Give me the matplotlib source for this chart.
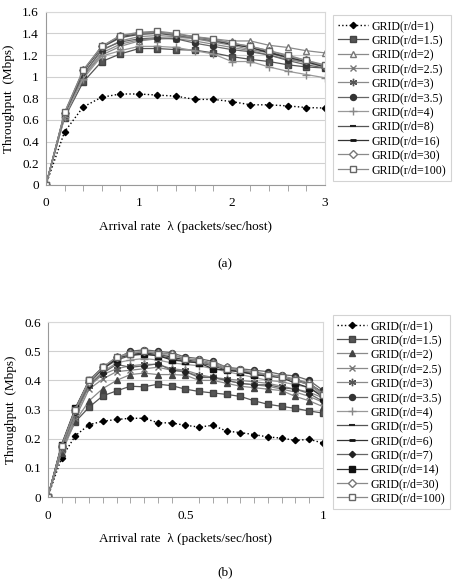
import matplotlib
matplotlib.use("Agg")
import matplotlib.pyplot as plt
import numpy as np

plt.rcParams['font.family'] = ['Liberation Serif', 'DejaVu Serif']

# ---------------- data (a) ----------------
x_a = [0, 0.2, 0.4, 0.6, 0.8, 1.0, 1.2, 1.4, 1.6, 1.8, 2.0, 2.2, 2.4, 2.6, 2.8, 3.0]
labels_a = ["1", "1.5", "2", "2.5", "3", "3.5", "4", "8", "16", "30", "100"]
a_1 = [0, .49, .72, .81, .84, .84, .83, .82, .79, .79, .77, .74, .74, .73, .715, .71]
a_1_5 = [0, .62, .95, 1.14, 1.21, 1.26, 1.26, 1.25, 1.245, 1.22, 1.185, 1.16, 1.14, 1.11, 1.09, 1.08]
a_2 = [0, .64, 1.00, 1.20, 1.28, 1.33, 1.35, 1.36, 1.36, 1.35, 1.33, 1.33, 1.29, 1.27, 1.24, 1.22]
a_2_5 = [0, .64, 1.00, 1.22, 1.30, 1.34, 1.35, 1.35, 1.33, 1.30, 1.27, 1.24, 1.20, 1.16, 1.13, 1.10]
a_3 = [0, .65, 1.02, 1.24, 1.33, 1.37, 1.38, 1.37, 1.35, 1.32, 1.29, 1.25, 1.22, 1.17, 1.13, 1.09]
a_3_5 = [0, .65, 1.02, 1.25, 1.32, 1.35, 1.36, 1.35, 1.31, 1.28, 1.25, 1.23, 1.20, 1.15, 1.11, 1.08]
a_4 = [0, .63, .98, 1.19, 1.24, 1.28, 1.28, 1.27, 1.24, 1.21, 1.14, 1.14, 1.09, 1.05, 1.02, .99]
a_8 = [0, .66, 1.05, 1.27, 1.36, 1.39, 1.40, 1.38, 1.36, 1.33, 1.30, 1.27, 1.23, 1.18, 1.14, 1.10]
a_16 = [0, .66, 1.05, 1.28, 1.37, 1.40, 1.41, 1.39, 1.37, 1.34, 1.30, 1.27, 1.22, 1.18, 1.14, 1.09]
a_30 = [0, .66, 1.06, 1.28, 1.38, 1.40, 1.41, 1.39, 1.36, 1.34, 1.31, 1.28, 1.24, 1.19, 1.15, 1.10]
a_100 = [0, .67, 1.06, 1.28, 1.38, 1.41, 1.42, 1.40, 1.37, 1.35, 1.31, 1.28, 1.24, 1.20, 1.15, 1.11]
series_a = [a_1, a_1_5, a_2, a_2_5, a_3, a_3_5, a_4, a_8, a_16, a_30, a_100]

# ---------------- data (b) ----------------
x_b = [0, .05, .1, .15, .2, .25, .3, .35, .4, .45, .5, .55, .6, .65, .7, .75, .8, .85, .9, .95, 1.0]
labels_b = ["1", "1.5", "2", "2.5", "3", "3.5", "4", "5", "6", "7", "14", "30", "100"]
b_1 = [0, .134, .21, .248, .26, .266, .27, .27, .255, .254, .246, .24, .246, .226, .221, .214, .206, .202, .194, .198, .185]
b_1_5 = [0, .165, .258, .308, .347, .364, .38, .378, .387, .382, .37, .362, .357, .352, .345, .33, .318, .311, .304, .295, .288]
b_2 = [0, .15, .26, .33, .372, .40, .42, .425, .42, .42, .418, .40, .40, .39, .38, .375, .37, .365, .345, .33, .31]
b_2_5 = [0, .16, .27, .37, .405, .43, .435, .44, .445, .435, .43, .415, .41, .40, .39, .385, .38, .37, .36, .345, .325]
b_3 = [0, .165, .28, .38, .42, .44, .45, .455, .455, .44, .435, .42, .41, .405, .40, .395, .39, .38, .37, .36, .34]
b_3_5 = [0, .175, .30, .40, .445, .475, .50, .505, .50, .495, .48, .475, .465, .445, .44, .435, .43, .42, .415, .40, .366]
b_4 = [0, .17, .29, .39, .43, .46, .47, .475, .47, .46, .455, .45, .44, .43, .42, .41, .40, .395, .385, .375, .35]
b_5 = [0, .175, .30, .395, .44, .47, .485, .49, .485, .475, .465, .46, .45, .435, .43, .42, .415, .41, .40, .385, .36]
b_6 = [0, .175, .30, .395, .44, .475, .49, .495, .49, .48, .47, .465, .455, .44, .43, .425, .42, .41, .40, .39, .357]
b_7 = [0, .17, .29, .385, .425, .455, .445, .45, .457, .435, .43, .41, .41, .40, .39, .385, .385, .375, .37, .355, .328]
b_14 = [0, .18, .305, .40, .445, .475, .49, .49, .485, .47, .465, .46, .44, .435, .43, .42, .415, .41, .39, .375, .343]
b_30 = [0, .175, .30, .395, .445, .48, .495, .50, .495, .49, .475, .47, .46, .445, .435, .43, .42, .415, .405, .39, .355]
b_100 = [0, .175, .30, .40, .445, .48, .49, .50, .49, .485, .475, .465, .455, .44, .435, .425, .42, .41, .40, .385, .35]
series_b = [b_1, b_1_5, b_2, b_2_5, b_3, b_3_5, b_4, b_5, b_6, b_7, b_14, b_30, b_100]

GRAY = '#8a8a8a'

def style(lbl, panel):
    base = dict(color=GRAY, lw=0.9, ms=3.8, mec=GRAY, mfc=GRAY, ls='-')
    if lbl == "1":
        base.update(color='black', ls=':', lw=1.0, marker='D', ms=3.2, mec='black', mfc='black')
    elif lbl == "1.5":
        base.update(color='#555555', marker='s', ms=4.3, mec='#444444', mfc='#555555')
    elif lbl == "2":
        if panel == 'a':
            base.update(marker='^', mfc='white', mec='#777777', ms=4.8)
        else:
            base.update(marker='^', mfc='#444444', mec='#444444', ms=4.3)
    elif lbl == "2.5":
        base.update(marker='x', mec='#777777', ms=4.3)
    elif lbl == "3":
        base.update(marker=(6, 2, 0), mec='#555555', ms=5.3)
    elif lbl == "3.5":
        base.update(color='#666666', marker='o', mfc='#333333', mec='#333333', ms=4.3)
    elif lbl == "4":
        base.update(color='#999999', marker='+', mec='#888888', ms=5.3)
    elif lbl in ("5", "8"):
        base.update(color='#555555', marker='_', mec='#222222', ms=4, mew=1.5)
    elif lbl in ("6", "16"):
        base.update(color='#333333', marker='_', mec='#111111', ms=5, mew=2)
    elif lbl == "7":
        base.update(color='#666666', marker='D', mfc='#222222', mec='#222222', ms=3.2)
    elif lbl == "14":
        base.update(color='#333333', marker='s', mfc='#111111', mec='#111111', ms=4.3)
    elif lbl == "30":
        base.update(marker='D', mfc='white', mec='#777777', ms=3.7)
    elif lbl == "100":
        base.update(marker='s', mfc='white', mec='#666666', ms=4.3)
    return base

fig = plt.figure(figsize=(4.64, 5.87), dpi=100)

def setup(ax, xmax, ymax, ystep, xmaj, xminor):
    ax.set_xlim(0, xmax)
    ax.set_ylim(0, ymax)
    ax.set_yticks(np.arange(0, ymax + 1e-9, ystep))
    ax.set_xticks(xmaj)
    ax.set_xticks(xminor, minor=True)
    ax.yaxis.grid(True, color='#d0d0d0', lw=0.8)
    ax.set_axisbelow(True)
    for s in ['top', 'right']:
        ax.spines[s].set_color('#d8d8d8')
        ax.spines[s].set_linewidth(0.8)
    for s in ['left', 'bottom']:
        ax.spines[s].set_color('#999999')
        ax.spines[s].set_linewidth(0.8)
    ax.tick_params(axis='y', length=0, labelsize=9.5, pad=5)
    ax.tick_params(axis='x', which='both', length=4, color='#999999', labelsize=9.5, pad=9)
    ax.tick_params(axis='x', which='major', length=0)
    ax.set_ylabel('Throughput  (Mbps)', fontsize=9.5, labelpad=5)
    ax.set_xlabel('Arrival rate  λ (packets/sec/host)', fontsize=9.5, labelpad=8)

# ---- panel (a)
ax1 = fig.add_axes([0.099, 0.685, 0.601, 0.295])
for lbl, ys in zip(labels_a, series_a):
    ax1.plot(x_a, ys, label=f"GRID(r/d={lbl})", **style(lbl, 'a'))
setup(ax1, 3, 1.6, 0.2, [0, 1, 2, 3], x_a)
ax1.set_yticklabels(['0', '0.2', '0.4', '0.6', '0.8', '1', '1.2', '1.4', '1.6'])
ax1.set_xticklabels(['0', '1', '2', '3'])
leg1 = ax1.legend(loc='upper left', bbox_to_anchor=(1.03, 0.98), fontsize=8.6,
                  frameon=True, fancybox=False, edgecolor='#c8c8c8', handlelength=2.5,
                  labelspacing=0.2, borderpad=0.4, handletextpad=0.3, borderaxespad=0)
leg1.get_frame().set_linewidth(0.8)
fig.text(0.485, 0.55, '(a)', ha='center', va='center', fontsize=9.5)

# ---- panel (b)
ax2 = fig.add_axes([0.103, 0.1533, 0.593, 0.298])
for lbl, ys in zip(labels_b, series_b):
    ax2.plot(x_b, ys, label=f"GRID(r/d={lbl})", **style(lbl, 'b'))
setup(ax2, 1, 0.6, 0.1, [0, 0.5, 1], x_b)
ax2.set_yticklabels(['0', '0.1', '0.2', '0.3', '0.4', '0.5', '0.6'])
ax2.set_xticklabels(['0', '0.5', '1'])
leg2 = ax2.legend(loc='upper left', bbox_to_anchor=(1.035, 1.04), fontsize=8.6,
                  frameon=True, fancybox=False, edgecolor='#c8c8c8', handlelength=2.5,
                  labelspacing=0.2, borderpad=0.4, handletextpad=0.3, borderaxespad=0)
leg2.get_frame().set_linewidth(0.8)
fig.text(0.485, 0.015, '(b)', ha='center', va='bottom', fontsize=9.5)

fig.savefig('out.png', dpi=100)
